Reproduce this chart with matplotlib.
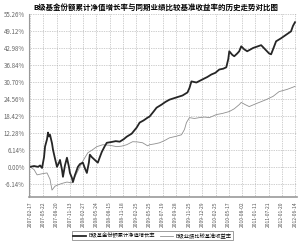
import matplotlib.pyplot as plt

plt.rcParams['font.family'] = ['Noto Sans CJK SC', 'DejaVu Sans']

# 数据
x_fund = [0, 4, 8, 10, 12, 14, 15, 17, 18, 19, 20, 22, 23, 25, 27, 29, 30, 32, 33, 35, 37, 39, 40, 42,
          43, 45, 48, 50, 53, 55, 57, 59, 60, 62, 65, 68, 70, 72, 75, 77, 82, 86, 90, 94, 97, 102, 107,
          110, 114, 118, 120, 124, 127, 132, 136, 140, 146, 153, 158, 160, 162, 167, 173, 178, 182,
          186, 190, 194, 197, 199, 200, 203, 205, 208, 210, 212, 215, 218, 224, 228, 232, 236, 240,
          242, 245, 247, 252, 258, 262, 264, 266]
fund = [0.0, 0.3, 0.0, 0.5, -0.4, 3.5, 7.3, 10.0, 12.4, 11.0, 11.6, 8.5, 6.2, 3.0, 0.0, 1.5, 2.5, -1.0,
        -3.6, 0.5, 3.3, 0.0, -2.2, -4.0, -5.5, -3.0, 0.0, 1.0, 1.5, -0.5, -2.2, 1.5, 4.4, 3.5, 2.5, 1.5,
        3.5, 5.4, 7.5, 8.7, 9.0, 9.3, 9.1, 10.0, 10.9, 12.0, 14.2, 16.0, 16.8, 17.8, 18.2, 20.0, 21.4,
        22.5, 23.5, 24.3, 25.0, 25.8, 26.9, 28.5, 30.9, 30.5, 31.6, 32.5, 33.4, 34.0, 35.2, 35.5, 36.0,
        39.0, 41.8, 40.5, 40.0, 41.0, 41.8, 43.6, 42.5, 41.8, 43.0, 43.5, 44.0, 42.5, 41.0, 40.7, 43.5,
        45.4, 46.5, 48.0, 49.0, 51.0, 52.3]

x_bench = [0, 4, 7, 12, 17, 20, 22, 25, 28, 32, 37, 42, 47, 52, 58, 62, 67, 73, 80, 87, 92, 97, 103,
           108, 113, 118, 120, 125, 130, 135, 140, 146, 152, 155, 157, 160, 165, 170, 175, 180, 187,
           193, 200, 205, 210, 212, 216, 220, 228, 237, 244, 250, 258, 266]
bench = [0.0, -1.0, -2.9, -2.5, -2.2, -4.5, -8.4, -7.0, -6.5, -6.0, -5.5, -5.8, -2.2, 1.5, 5.1, 6.0,
         7.3, 8.0, 7.8, 7.3, 7.5, 8.0, 9.1, 9.0, 8.7, 7.6, 8.0, 8.3, 8.7, 9.5, 10.5, 11.0, 11.6, 13.5,
         16.0, 17.8, 17.5, 17.8, 18.0, 17.8, 18.9, 19.3, 20.0, 21.0, 22.5, 23.3, 22.5, 21.8, 23.0,
         24.3, 25.5, 27.2, 28.0, 29.1]

tick_labels = ["2007-02-17", "2007-05-22", "2007-08-20", "2007-11-13", "2008-02-27", "2008-05-24",
               "2008-08-15", "2008-11-18", "2009-02-25", "2009-05-25", "2009-07-19", "2009-09-28",
               "2009-11-25", "2009-12-29", "2010-02-25", "2010-05-17", "2010-08-02", "2011-01-11",
               "2011-07-21", "2012-01-20", "2012-06-14"]
yticks = [-6.14, 0.00, 6.14, 12.28, 18.42, 24.56, 30.70, 36.84, 42.98, 49.12, 55.26]

fig = plt.figure(figsize=(3.0, 2.42), dpi=100)
ax = fig.add_axes([0.097, 0.186, 0.893, 0.756])

ax.plot(x_bench, bench, color='#8f8f8f', lw=0.6, label='B级业绩比较基准收益率')
ax.plot(x_fund, fund, color='#262626', lw=1.3, label='B级基金份额累计净值增长率')

xt = [i * 13.3 for i in range(len(tick_labels))]
ax.set_xticks(xt)
ax.set_xticklabels(tick_labels, rotation=90, fontsize=3.6, color='#555555')
ax.set_yticks(yticks)
ax.set_yticklabels(['%.2f%%' % v for v in yticks], fontsize=4.4, color='#666666')
ax.set_xlim(-1, 268)
ax.set_ylim(-10.9, 55.26)

ax.grid(True, color='#a0a0a0', linestyle=(0, (1, 1.5)), lw=0.5)
ax.tick_params(length=0, pad=3)
for s in ['top', 'right']:
    ax.spines[s].set_visible(False)
ax.spines['left'].set_color('#999999')
ax.spines['bottom'].set_color('#999999')
ax.spines['bottom'].set_linewidth(1.2)

fig.text(0.52, 0.972, 'B级基金份额累计净值增长率与同期业绩比较基准收益率的历史走势对比图',
         ha='center', va='center', fontsize=5.4, fontweight='bold')

h, l = ax.get_legend_handles_labels()
leg = fig.legend(h[::-1], l[::-1], loc='center', bbox_to_anchor=(0.508, 0.026), ncol=2,
                 fontsize=3.8, frameon=True, fancybox=False, handlelength=2.5,
                 borderpad=0.3, columnspacing=1.0, handletextpad=0.4)
leg.get_frame().set_edgecolor('#555555')
leg.get_frame().set_linewidth(0.5)

fig.savefig('out.png', dpi=100)
